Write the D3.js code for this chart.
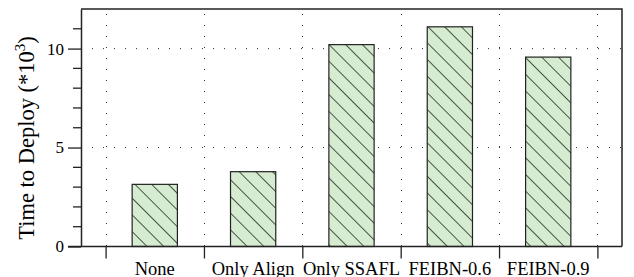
<!DOCTYPE html>
<html>
<head>
<meta charset="utf-8">
<script src="https://cdn.jsdelivr.net/npm/d3@7"></script>
<style>
  body { margin: 0; background: #fff; }
  svg { display: block; }
  svg text { font-family: "Liberation Serif", "Times New Roman", Times, serif !important; }
</style>
</head>
<body>
<div id="chart"></div>
<script>
const categories = ["None", "Only Align", "Only SSAFL", "FEIBN-0.6", "FEIBN-0.9"];
const deployTimes = [3.14, 3.78, 10.2, 11.1, 9.57];
const yMajorTicks = [0, 5, 10];
const yMinorTicks = [1, 2, 3, 4, 6, 7, 8, 9, 11];

const width = 634, height = 277;
const plotL = 81, plotR = 622, plotT = 9, plotB = 246.5;

const svg = d3.select("#chart").append("svg")
  .attr("width", width)
  .attr("height", height);

const x = d3.scaleLinear().domain([-0.25, categories.length + 0.25]).range([plotL, plotR]);
const y = d3.scaleLinear().domain([0, 12]).range([plotB, plotT]);

// hatch pattern
const defs = svg.append("defs");
const pat = defs.append("pattern")
  .attr("id", "hatch")
  .attr("patternUnits", "userSpaceOnUse")
  .attr("width", 11.8)
  .attr("height", 11.8)
  .attr("patternTransform", "rotate(-45)");
pat.append("rect").attr("width", 11.8).attr("height", 11.8).attr("fill", "#d5ecd0");
pat.append("line")
  .attr("x1", 0).attr("y1", 0).attr("x2", 0).attr("y2", 11.8)
  .attr("stroke", "#000").attr("stroke-width", 1.3);

// grid
const gridTicks = d3.range(0, categories.length + 1);
svg.append("g").selectAll("line")
  .data([5, 10])
  .join("line")
  .attr("x1", plotL).attr("x2", plotR)
  .attr("y1", d => y(d)).attr("y2", d => y(d))
  .attr("stroke", "#333").attr("stroke-width", 1)
  .attr("stroke-dasharray", "1,10");
svg.append("g").selectAll("line")
  .data(gridTicks)
  .join("line")
  .attr("x1", d => Math.round(x(d)) + 0.5).attr("x2", d => Math.round(x(d)) + 0.5)
  .attr("y1", plotT + 5).attr("y2", plotB)
  .attr("stroke", "#333").attr("stroke-width", 1)
  .attr("stroke-dasharray", "1,10");

// bars
const barW = 0.46;
svg.append("g").selectAll("rect")
  .data(deployTimes)
  .join("rect")
  .attr("x", (d, i) => x(i + 0.5 - barW / 2))
  .attr("width", x(barW) - x(0))
  .attr("y", d => y(d))
  .attr("height", d => y(0) - y(d))
  .attr("fill", "url(#hatch)")
  .attr("stroke", "#222")
  .attr("stroke-width", 1.2);

// frame
svg.append("path")
  .attr("d", `M${plotL},${plotT}H${plotR}V${plotB}`)
  .attr("fill", "none").attr("stroke", "#222").attr("stroke-width", 1.5);

// y axis
const yAxis = svg.append("g").attr("transform", `translate(${plotL},0)`)
  .call(d3.axisLeft(y).tickValues(yMajorTicks).tickSize(13).tickPadding(4).tickSizeOuter(0));
yAxis.select(".domain").attr("stroke", "#222").attr("stroke-width", 1.5);
yAxis.selectAll(".tick line").attr("stroke", "#222").attr("stroke-width", 1.3);
yAxis.selectAll(".tick text")
  .attr("font-size", 17).attr("fill", "#000");
svg.append("g").selectAll("line")
  .data(yMinorTicks)
  .join("line")
  .attr("x1", plotL - 8).attr("x2", plotL)
  .attr("y1", d => y(d)).attr("y2", d => y(d))
  .attr("stroke", "#222").attr("stroke-width", 1.3);

// x axis
const xAxis = svg.append("g").attr("transform", `translate(0,${plotB})`)
  .call(d3.axisBottom(x).tickValues(gridTicks).tickSize(12).tickFormat("").tickSizeOuter(0));
xAxis.select(".domain").remove();
xAxis.selectAll(".tick line").attr("stroke", "#222").attr("stroke-width", 1.3);
svg.append("line")
  .attr("x1", plotL - 13).attr("x2", plotR)
  .attr("y1", plotB).attr("y2", plotB)
  .attr("stroke", "#222").attr("stroke-width", 1.5);

svg.append("g").selectAll("text")
  .data(categories)
  .join("text")
  .attr("x", (d, i) => x(i + 0.5))
  .attr("y", 274.5)
  .attr("text-anchor", "middle")
  .attr("font-size", 18.5)
  .attr("fill", "#000")
  .text(d => d);

// y label
const yl = svg.append("text")
  .attr("transform", `translate(34,138) rotate(-90)`)
  .attr("text-anchor", "middle")
  .attr("font-size", 22.5)
  .attr("fill", "#000");
yl.append("tspan").text("Time to Deploy (*10");
yl.append("tspan").attr("font-size", 15).attr("dy", -9).text("3");
yl.append("tspan").attr("dy", 9).text(")");
</script>
</body>
</html>
